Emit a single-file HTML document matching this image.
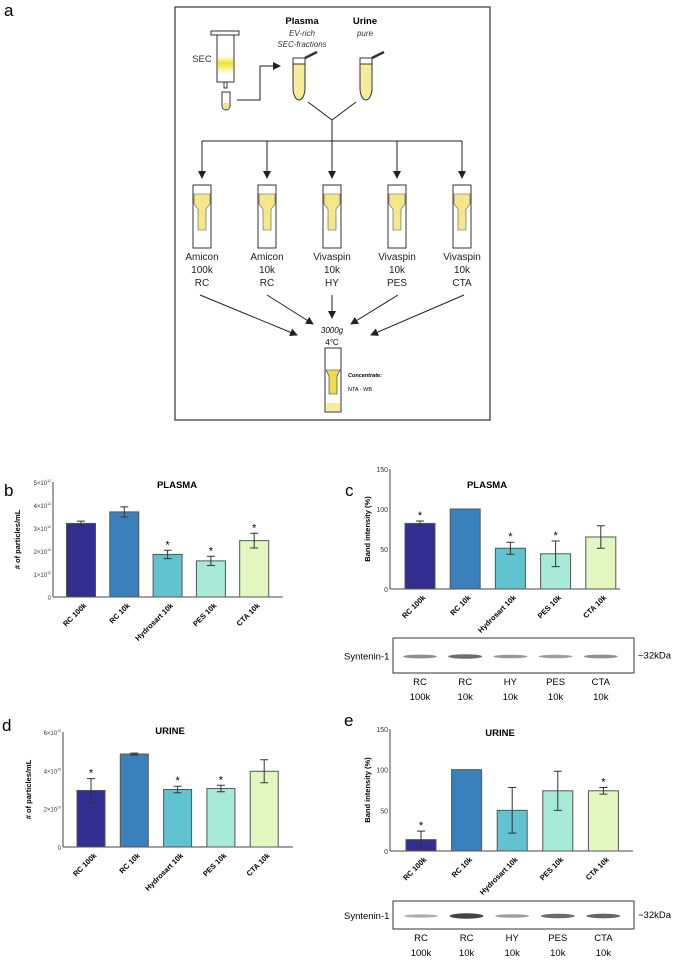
<!DOCTYPE html>
<html><head><meta charset="utf-8"><style>
body{margin:0;background:#fff}
svg{display:block;font-family:"Liberation Sans",sans-serif}
</style></head><body>
<svg id="fig" width="675" height="964" viewBox="0 0 675 964">
<defs>
<linearGradient id="band" x1="0" y1="0" x2="0" y2="1"><stop offset="0" stop-color="#fff"/><stop offset="0.4" stop-color="#f2e02a"/><stop offset="1" stop-color="#fff"/></linearGradient>
<marker id="ah" markerWidth="8" markerHeight="8" refX="7" refY="4" orient="auto" markerUnits="userSpaceOnUse"><path d="M0,0 L8,4 L0,8 z" fill="#222"/></marker>
</defs>
<g>
<text x="4" y="16" font-size="17">a</text>
<rect x="175" y="7" width="315" height="413" fill="none" stroke="#333" stroke-width="1.2"/>
<text x="302" y="24" font-size="9.5" font-weight="bold" text-anchor="middle">Plasma</text>
<text x="302" y="36" font-size="8" font-style="italic" text-anchor="middle" fill="#333">EV-rich</text>
<text x="302" y="47" font-size="8" font-style="italic" text-anchor="middle" fill="#333">SEC-fractions</text>
<text x="365" y="24" font-size="9.5" font-weight="bold" text-anchor="middle">Urine</text>
<text x="365" y="36" font-size="8" font-style="italic" text-anchor="middle" fill="#333">pure</text>
<text x="202" y="62" font-size="9.5" text-anchor="middle" fill="#333">SEC</text>
<g stroke="#333" stroke-width="1" fill="#fff">
<rect x="211" y="31" width="28" height="4"/>
<rect x="217" y="35" width="17" height="47"/>
<rect x="218" y="56" width="15" height="18" fill="url(#band)" stroke="none"/>
<rect x="224" y="82" width="3" height="6"/>
<path d="M222,92 h8 v14 a4,4 0 0 1 -8,0 z"/>
<path d="M223,103 h6 v3 a3,3 0 0 1 -6,0z" fill="#f3e58a" stroke="none"/>
</g>
<path d="M237,100 H260 V66 H280" fill="none" stroke="#222" marker-end="url(#ah)"/>
<g stroke="#333" stroke-width="1">
<path d="M293,58 h12 v30 a6,12 0 0 1 -12,0 z" fill="#f6ec9c"/><rect x="293" y="58" width="12" height="6" fill="#fff"/><line x1="305" y1="58" x2="317" y2="52" stroke-width="2.5"/>
<path d="M360,58 h12 v30 a6,12 0 0 1 -12,0 z" fill="#f6ec9c"/><rect x="360" y="58" width="12" height="6" fill="#fff"/><line x1="372" y1="58" x2="384" y2="52" stroke-width="2.5"/>
</g>
<path d="M308,102 L332,120 L356,102 M332,120 V141 M202,141 H462" fill="none" stroke="#222"/>
<g id="filters"></g>
<text x="332" y="333" font-size="8" font-style="italic" text-anchor="middle">3000g</text>
<text x="332" y="345" font-size="8" text-anchor="middle">4°C</text>
<g>
<rect x="325" y="348" width="16" height="64" fill="#fff" stroke="#333"/>
<path d="M326,370 h14 l-3,6 v18 h-8 v-18 z" fill="#f2d94a" stroke="#333" stroke-width="0.6"/>
<rect x="326" y="403" width="14" height="8" fill="#f6ec9c"/>
</g>
<text x="348" y="377" font-size="5.5" font-weight="bold" font-style="italic">Concentrate:</text>
<text x="348" y="391" font-size="5.5">NTA - WB</text>
</g>
<g id="charts"></g>
</svg>
<script>
// ---- chart data ----
const categories = ["RC 100k","RC 10k","Hydrosart 10k","PES 10k","CTA 10k"];
const colors = ["#322e92","#3a80bc","#62c3d0","#a8ead8","#e3f8c0"];
const plasmaNta = [3.2,3.7,1.85,1.57,2.45];
const plasmaNtaErr = [0.1,0.22,0.18,0.2,0.32];
const plasmaNtaSig = [false,false,true,true,true];
const plasmaWb = [82,100,51,44,65];
const plasmaWbErr = [3,0,7.5,16,14];
const plasmaWbSig = [true,false,true,true,false];
const urineNta = [2.95,4.85,3.0,3.05,3.95];
const urineNtaErr = [0.62,0.05,0.17,0.17,0.6];
const urineNtaSig = [true,false,true,true,false];
const urineWb = [14,100,50,74,74];
const urineWbErr = [10.5,0,28,24,4];
const urineWbSig = [true,false,false,false,true];
const ntaTicksPlasma = [0,1,2,3,4,5];
const ntaTicksUrine = [0,2,4,6];
const wbTicks = [0,50,100,150];
const filterNames = [["Amicon","100k","RC"],["Amicon","10k","RC"],["Vivaspin","10k","HY"],["Vivaspin","10k","PES"],["Vivaspin","10k","CTA"]];
const blotTop = ["RC","RC","HY","PES","CTA"];
const blotBot = ["100k","10k","10k","10k","10k"];
const bandPlasma = [0.45,0.7,0.4,0.35,0.45];
const bandUrine = [0.25,1,0.35,0.7,0.75];

const NS="http://www.w3.org/2000/svg";
function mk(tag,attrs,parent,txt){const e=document.createElementNS(NS,tag);for(const k in attrs)e.setAttribute(k,attrs[k]);if(txt!==undefined)e.textContent=txt;parent.appendChild(e);return e;}

const fg=document.getElementById('filters');
filterNames.forEach((n,i)=>{
  const cx=202+65*i;
  const ln=mk('line',{x1:cx,y1:141,x2:cx,y2:178,stroke:'#222','marker-end':'url(#ah)'},fg);
  
  
  const d=mk('rect',{x:cx-9,y:185,width:18,height:63,fill:'#fff',stroke:'#333'},fg);
  
  
  mk('path',{d:`M${cx-8},194 h16 v10 l-4,5 v21 h-8 v-21 l-4,-5 z`,fill:'#f6e88a',stroke:'#555','stroke-width':0.6},fg);
  n.forEach((t,j)=>{const tx=mk('text',{x:cx,y:260+13*j,'font-size':10,'text-anchor':'middle',fill:'#222'},fg,t);
    
    });
  const ends=[[297,335],[313,324],[332,318],[351,324],[371,335]];
  const sx=[200,267,332,398,464][i];
  const a=mk('line',{x1:sx,y1:295,x2:ends[i][0],y2:ends[i][1],stroke:'#222','marker-end':'url(#ah)'},fg);
  
  
});

const cg=document.getElementById('charts');
function chart(o){
  const g=mk('g',{},cg);
  
  
  const y=v=>o.y0-(v/o.max)*(o.y0-o.yTop);
  const x=i=>o.x0+o.first+o.step*i;
  const lab=mk('text',{x:o.lx,y:o.ly,'font-size':17},g,o.letter);
  
  
  const t=mk('text',{x:o.tx,y:o.ty,'font-size':9.5,'font-weight':'bold','text-anchor':'middle'},g,o.title);
  
  
  mk('line',{x1:o.x0,y1:o.yTop,x2:o.x0,y2:o.y0,stroke:'#444'},g);
  mk('line',{x1:o.x0,y1:o.y0,x2:o.x1,y2:o.y0,stroke:'#444'},g);
  o.ticks.forEach(tv=>{
    const tt=mk('text',{x:o.x0-2,y:y(tv)+3,'font-size':o.exp?6:7,'text-anchor':'end',fill:'#333'},g);
    
    
    if(o.exp&&tv!==0){tt.textContent=tv+'×10';mk('tspan',{'font-size':3.5,dy:-3},tt,o.exp);}else tt.textContent=tv;
  });
  const yt=mk('text',{transform:`translate(${o.ytx},${(o.y0+o.yTop)/2}) rotate(-90)`,'font-size':7.5,'font-weight':'bold','text-anchor':'middle'},g,o.ylabel);
  
  
  o.vals.forEach((v,i)=>{
    const cx=x(i);
    const b=mk('rect',{x:cx-o.bw/2,y:y(v),width:o.bw,height:o.y0-y(v),fill:colors[i],stroke:'#555','stroke-width':1},g);
    
    
    const e=o.err[i];
    if(e>0){
      mk('path',{d:`M${cx},${y(v+e)} V${y(v-e)} M${cx-4},${y(v+e)} h8 M${cx-4},${y(v-e)} h8`,stroke:'#333',fill:'none'},g);
    }
    if(o.sig[i]){
      const s=mk('text',{x:cx,y:y(v+e)-2,'font-size':11,'text-anchor':'middle'},g,'*');
      
      
    }
    const xl=mk('text',{transform:`translate(${cx+6},${o.y0+9}) rotate(-45)`,'font-size':7.5,'font-weight':'bold','text-anchor':'end'},g,categories[i]);
    
    
  });
  if(o.blot){
    const bl=o.blot;
    const r=mk('rect',{x:393,y:bl.y,width:241,height:bl.h,fill:'#fff',stroke:'#333'},g);
    
    
    bl.band.forEach((k,i)=>{
      const cx=x(i);
      mk('ellipse',{cx:cx,cy:bl.y+bl.h/2+1,rx:17,ry:1.2+1.5*k,fill:`rgba(20,20,20,${0.2+0.6*k})`},g);
    });
    mk('text',{x:344,y:bl.y+bl.h/2+4,'font-size':9.5},g,'Syntenin-1');
    mk('text',{x:638,y:bl.y+bl.h/2+3,'font-size':9.5},g,'~32kDa');
    blotTop.forEach((s,i)=>{mk('text',{x:x(i),y:bl.y+bl.h+12,'font-size':9.5,'text-anchor':'middle'},g,s);
      mk('text',{x:x(i),y:bl.y+bl.h+27,'font-size':9.5,'text-anchor':'middle'},g,blotBot[i]);});
  }
}
chart({name:'plasma-nta-chart',letter:'b',lx:4,ly:496,title:'PLASMA',tx:177,ty:488,x0:53,x1:283,y0:597,yTop:482,max:5,first:28,step:43.3,bw:29,
  vals:plasmaNta,err:plasmaNtaErr,sig:plasmaNtaSig,ticks:ntaTicksPlasma,exp:'12',ylabel:'# of particles/mL',ytx:20});
chart({name:'plasma-wb-chart',letter:'c',lx:345,ly:496,title:'PLASMA',tx:487,ty:488,x0:390,x1:620,y0:589,yTop:469,max:150,first:30,step:45.2,bw:30,
  vals:plasmaWb,err:plasmaWbErr,sig:plasmaWbSig,ticks:wbTicks,ylabel:'Band intensity (%)',ytx:370,blot:{y:638,h:35,band:bandPlasma}});
chart({name:'urine-nta-chart',letter:'d',lx:2,ly:731,title:'URINE',tx:170,ty:734,x0:63,x1:293,y0:847,yTop:732,max:6,first:28,step:43.3,bw:28,
  vals:urineNta,err:urineNtaErr,sig:urineNtaSig,ticks:ntaTicksUrine,exp:'10',ylabel:'# of particles/mL',ytx:31});
chart({name:'urine-wb-chart',letter:'e',lx:344,ly:726,title:'URINE',tx:500,ty:736,x0:390,x1:633,y0:851,yTop:729,max:150,first:31,step:45.6,bw:30,
  vals:urineWb,err:urineWbErr,sig:urineWbSig,ticks:wbTicks,ylabel:'Band intensity (%)',ytx:370,blot:{y:901,h:28,band:bandUrine}});
</script>
</body></html>
